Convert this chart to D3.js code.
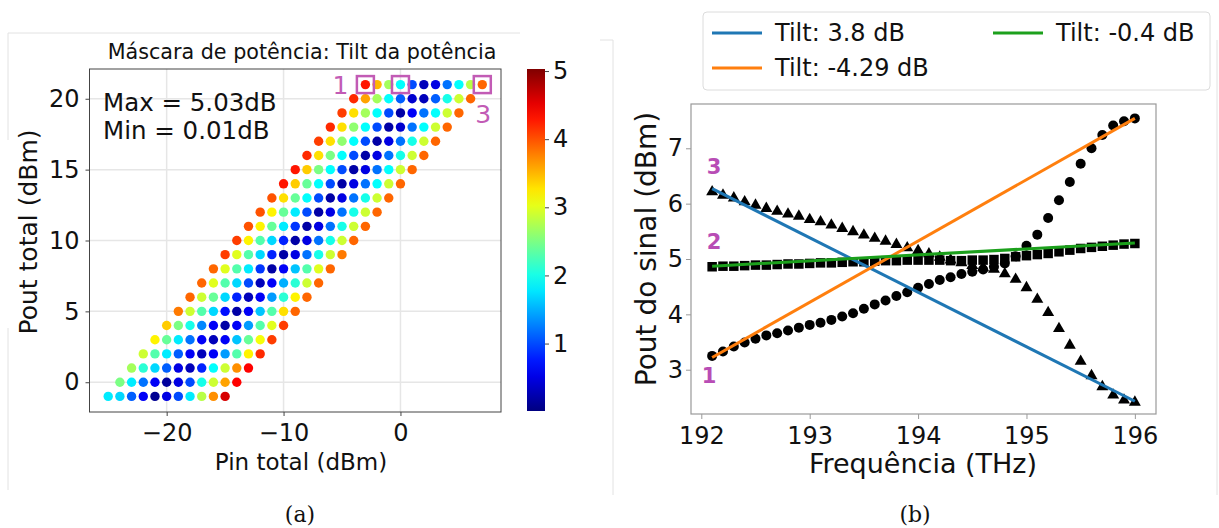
<!DOCTYPE html>
<html><head><meta charset="utf-8">
<script src="https://cdn.jsdelivr.net/npm/d3@7"></script>
<style>body{margin:0;background:#fff} svg{display:block} text{font-family:"DejaVu Sans",sans-serif;fill:#111}</style>
</head><body><svg id="c" width="1219" height="528"></svg>
<script>
// ---------- Panel (a): tilt mask ----------
const poutRows = [-1,0,1,2,3,4,5,6,7,8,9,10,11,12,13,14,15,16,17,18,19,20,21];
const gains = [24,23,22,21,20,19,18,17,16,15,14];   // Pin = Pout - gain
const tiltRows = [
  [1.8,1.7,1.1,0.6,0.1,0.5,1.0,1.8,2.8,3.7,4.6],
  [2.5,1.8,1.2,0.6,0.15,0.5,1.0,2.0,2.9,3.6,4.4],
  [2.7,2.1,1.7,1.1,0.5,0.3,0.8,1.9,2.9,3.7,4.4],
  [2.9,2.3,1.8,1.1,0.6,0.3,0.6,1.4,2.3,3.2,4.2],
  [3.2,2.4,1.8,1.2,0.6,0.3,0.6,1.6,2.4,3.1,4.1],
  [3.4,2.5,2.0,1.3,0.6,0.2,0.6,1.4,2.3,3.0,4.1],
  [3.8,2.9,2.3,1.7,0.7,0.2,0.6,1.6,2.3,3.3,3.9],
  [3.9,2.9,2.4,1.7,0.8,0.3,0.6,1.4,2.1,3.2,3.9],
  [3.9,3.0,2.3,1.7,1.0,0.3,0.6,1.5,2.1,2.9,3.9],
  [3.9,3.0,2.3,1.8,0.9,0.2,0.6,1.6,2.3,3.0,3.9],
  [4.1,3.0,2.3,1.7,0.8,0.2,0.5,1.2,2.0,2.9,3.8],
  [4.1,3.2,2.3,1.7,0.8,0.2,0.5,1.2,2.0,2.9,3.9],
  [4.0,3.2,2.4,1.8,0.9,0.2,0.5,1.2,2.0,2.9,3.9],
  [4.0,3.2,2.4,1.8,1.0,0.2,0.5,1.2,2.0,2.9,3.9],
  [4.0,3.3,2.4,1.9,1.0,0.2,0.5,1.2,2.0,2.9,3.9],
  [4.3,3.4,2.4,1.9,1.0,0.2,0.5,1.2,1.9,2.9,3.9],
  [4.3,3.4,2.5,1.9,1.0,0.2,0.5,1.2,1.9,2.9,3.9],
  [4.2,3.3,2.5,1.9,1.0,0.2,0.5,1.2,2.0,2.9,3.9],
  [4.1,3.3,2.6,1.9,1.0,0.2,0.5,1.2,2.0,2.9,3.9],
  [4.2,3.3,2.6,1.9,1.0,0.2,0.4,1.2,1.9,2.9,3.9],
  [4.1,3.3,2.7,1.9,1.0,0.2,0.6,1.2,1.9,2.9,3.9],
  [4.2,3.6,2.7,1.9,1.1,0.4,0.3,1.1,2.0,2.9,3.9],
  [4.3,3.5,2.7,1.9,1.0,0.3,0.5,1.2,1.9,2.8,3.9]
];
const tiltRange = [0.01, 5.03];
const xTicksA = [-20,-10,0];
const yTicksA = [0,5,10,15,20];
const cbarTicks = [1,2,3,4,5];
const markedPin = [-3, 0, 7];      // points 1,2,3 at Pout 21
const markedPout = [21, 21, 21];

// ---------- Panel (b): signal power ----------
const freqs = [192.1,192.2,192.3,192.4,192.5,192.6,192.7,192.8,192.9,193.0,
  193.1,193.2,193.3,193.4,193.5,193.6,193.7,193.8,193.9,194.0,
  194.1,194.2,194.3,194.4,194.5,194.6,194.7,194.8,194.9,195.0,
  195.1,195.2,195.3,195.4,195.5,195.6,195.7,195.8,195.9,196.0];
const pout1 = [3.25,3.33,3.42,3.49,3.56,3.62,3.66,3.71,3.76,3.81,
  3.85,3.90,3.96,4.02,4.10,4.18,4.25,4.33,4.40,4.48,
  4.55,4.62,4.67,4.73,4.77,4.81,4.86,4.92,5.05,5.24,
  5.44,5.74,6.06,6.39,6.72,7.00,7.24,7.41,7.49,7.54];
const pout2 = [4.86,4.87,4.87,4.88,4.89,4.89,4.90,4.91,4.91,4.92,
  4.93,4.93,4.94,4.95,4.95,4.96,4.97,4.97,4.98,4.98,
  4.98,4.98,4.97,4.97,4.98,4.98,4.99,5.01,5.04,5.06,
  5.08,5.10,5.13,5.16,5.19,5.21,5.23,5.25,5.27,5.28];
const pout3 = [6.23,6.17,6.12,6.05,5.99,5.93,5.88,5.83,5.79,5.73,
  5.69,5.63,5.57,5.51,5.45,5.39,5.34,5.28,5.22,5.17,
  5.11,5.05,5.00,4.95,4.90,4.86,4.83,4.75,4.65,4.50,
  4.29,4.05,3.76,3.46,3.17,2.91,2.71,2.56,2.47,2.43];
// linear fits: [value at first freq, value at last freq]
const fitLabels = ["Tilt: 3.8 dB","Tilt: -4.29 dB","Tilt: -0.4 dB"];
const fit3 = [6.27, 2.43];
const fit1 = [3.22, 7.54];
const fit2 = [4.87, 5.29];
const xTicksB = [192,193,194,195,196];
const yTicksB = [3,4,5,6,7];

const svg = d3.select("#c");
const MAG = "#c25bb5";

function jet(t){
  t = Math.max(0, Math.min(1, t));
  const c = v => Math.round(255*Math.max(0, Math.min(1, v)));
  return `rgb(${c(1.5-Math.abs(4*t-3))},${c(1.5-Math.abs(4*t-2))},${c(1.5-Math.abs(4*t-1))})`;
}

// faint page frames
const frames = svg.append("g").attr("stroke","#e2e2e2").attr("fill","none");
frames.append("path").attr("d","M8,140 V33 H520");
frames.append("path").attr("d","M8,328 V490");
frames.append("path").attr("d","M600,40 H613 V495");
frames.append("path").attr("d","M1217,40 V495");

// ================= Panel A =================
const xA = d3.scaleLinear().domain([-26.6, 8.6]).range([89.5, 501]);
const yA = d3.scaleLinear().domain([-2.1, 22.1]).range([412, 69]);
const color = d3.scaleSequential(t => jet(t)).domain(tiltRange);

const gA = svg.append("g");
gA.append("g").selectAll("line").data(xTicksA).join("line")
  .attr("x1", d=>xA(d)).attr("x2", d=>xA(d)).attr("y1", 69).attr("y2", 412)
  .attr("stroke","#e6e6e6").attr("stroke-width",1.5);
gA.append("g").selectAll("line").data(yTicksA).join("line")
  .attr("y1", d=>yA(d)).attr("y2", d=>yA(d)).attr("x1", 89.5).attr("x2", 501)
  .attr("stroke","#e6e6e6").attr("stroke-width",1.5);

const pts = [];
poutRows.forEach((p,i)=> gains.forEach((g,j)=> pts.push({pin:p-g, pout:p, v:tiltRows[i][j]})));
gA.append("g").selectAll("circle").data(pts).join("circle")
  .attr("cx", d=>xA(d.pin)).attr("cy", d=>yA(d.pout)).attr("r", 4.7)
  .attr("fill", d=>color(d.v));

gA.append("rect").attr("x",89.5).attr("y",69).attr("width",411.5).attr("height",343)
  .attr("fill","none").attr("stroke","#444").attr("stroke-width",1);

const axA = gA.append("g").attr("transform","translate(0,412)")
  .call(d3.axisBottom(xA).tickValues(xTicksA).tickSize(4).tickFormat(d=>d<0?"\u2212"+Math.abs(d):d));
const ayA = gA.append("g").attr("transform","translate(89.5,0)")
  .call(d3.axisLeft(yA).tickValues(yTicksA).tickSize(4).tickPadding(6));
[axA, ayA].forEach(a=>{ a.select(".domain").remove();
  a.selectAll("line").attr("stroke","#444");
  a.selectAll("text").attr("font-size",24).attr("font-family","DejaVu Sans").attr("fill","#111"); });
axA.selectAll("text").attr("dy","0.9em");

gA.append("g").selectAll("rect").data(markedPin).join("rect")
  .attr("x", (d,i)=>xA(d)-8.5).attr("y", (d,i)=>yA(markedPout[i])-8.5)
  .attr("width",17).attr("height",17).attr("fill","none")
  .attr("stroke",MAG).attr("stroke-width",2.5);
gA.append("text").attr("x", xA(markedPin[0])-25).attr("y", yA(21)+9).attr("text-anchor","middle")
  .attr("font-size",25).style("fill",MAG).text("1");
gA.append("text").attr("x", xA(markedPin[2])+1).attr("y", yA(21)+38).attr("text-anchor","middle")
  .attr("font-size",25).style("fill",MAG).text("3");

gA.append("text").attr("x",103).attr("y",111).attr("font-size",24.5).text("Max = 5.03dB");
gA.append("text").attr("x",103).attr("y",139).attr("font-size",24.5).text("Min = 0.01dB");

gA.append("text").attr("x",302).attr("y",59).attr("text-anchor","middle").attr("font-size",20.7)
  .text("Máscara de potência: Tilt da potência");
gA.append("text").attr("x",301).attr("y",470).attr("text-anchor","middle").attr("font-size",23)
  .text("Pin total (dBm)");
gA.append("text").attr("transform","translate(37,232) rotate(-90)").attr("text-anchor","middle")
  .attr("font-size",25).text("Pout total (dBm)");

// colorbar
const cb = svg.append("g");
const cbY = d3.scaleLinear().domain(tiltRange).range([411, 69]);
const grad = svg.append("defs").append("linearGradient").attr("id","jetg")
  .attr("x1",0).attr("y1",1).attr("x2",0).attr("y2",0);
d3.range(0,1.0001,0.05).forEach(t=> grad.append("stop").attr("offset",t).attr("stop-color",jet(t)));
cb.append("rect").attr("x",527).attr("y",69).attr("width",18).attr("height",342).attr("fill","url(#jetg)");
const cbAx = cb.append("g").attr("transform","translate(545,0)")
  .call(d3.axisRight(cbY).tickValues(cbarTicks).tickSize(4).tickPadding(4).tickFormat(d3.format("d")));
cbAx.select(".domain").remove();
cbAx.selectAll("line").attr("stroke","#444");
cbAx.selectAll("text").attr("font-size",24).attr("font-family","DejaVu Sans").attr("fill","#111");

// ================= Panel B =================
const xB = d3.scaleLinear().domain([191.905, 196.195]).range([691, 1156]);
const yB = d3.scaleLinear().domain([2.2, 7.8]).range([414, 104]);
const gB = svg.append("g");

gB.append("rect").attr("x",691).attr("y",104).attr("width",465).attr("height",310)
  .attr("fill","none").attr("stroke","#999").attr("stroke-width",1.2);

const axB = gB.append("g").attr("transform","translate(0,414)")
  .call(d3.axisBottom(xB).tickValues(xTicksB).tickSize(5).tickFormat(d3.format("d")));
const ayB = gB.append("g").attr("transform","translate(691,0)")
  .call(d3.axisLeft(yB).tickValues(yTicksB).tickSize(5).tickFormat(d3.format("d")));
[axB, ayB].forEach(a=>{ a.select(".domain").remove();
  a.selectAll("line").attr("stroke","#999");
  a.selectAll("text").attr("font-size",24).attr("font-family","DejaVu Sans").attr("fill","#111"); });
axB.selectAll("text").attr("dy","0.9em");

const circ = freqs.map((f,i)=>({f, v:pout1[i]}));
const sq = freqs.map((f,i)=>({f, v:pout2[i]}));
const tri = freqs.map((f,i)=>({f, v:pout3[i]}));
gB.append("g").selectAll("path").data(tri).join("path")
  .attr("transform", d=>`translate(${xB(d.f)},${yB(d.v)+1})`)
  .attr("d", d3.symbol(d3.symbolTriangle, 62)).attr("fill","#000");
gB.append("g").selectAll("path").data(sq).join("path")
  .attr("transform", d=>`translate(${xB(d.f)},${yB(d.v)})`)
  .attr("d", d3.symbol(d3.symbolSquare, 90)).attr("fill","#000");
gB.append("g").selectAll("circle").data(circ).join("circle")
  .attr("cx", d=>xB(d.f)).attr("cy", d=>yB(d.v)).attr("r", 5).attr("fill","#000");

const fits = [
  {vals: fit3, color:"#1f77b4"},
  {vals: fit1, color:"#ff7f0e"},
  {vals: fit2, color:"#1ca01c"}
];
const fEnds = [freqs[0], freqs[freqs.length-1]];
const line = d3.line().x(d=>xB(d[0])).y(d=>yB(d[1]));
gB.append("g").selectAll("path").data(fits).join("path")
  .attr("d", d=>line(fEnds.map((f,i)=>[f, d.vals[i]])))
  .attr("stroke", d=>d.color).attr("stroke-width",3).attr("fill","none");

const MAGB = "#b84db5";
gB.append("text").attr("x", xB(freqs[0])+2).attr("y", yB(fit3[0])-15).attr("text-anchor","middle")
  .attr("font-size",21).attr("font-weight","bold").style("fill",MAGB).text("3");
gB.append("text").attr("x", xB(freqs[0])+2).attr("y", yB(fit2[0])-17).attr("text-anchor","middle")
  .attr("font-size",21).attr("font-weight","bold").style("fill",MAGB).text("2");
gB.append("text").attr("x", xB(freqs[0])-3).attr("y", yB(fit1[0])+25).attr("text-anchor","middle")
  .attr("font-size",21).attr("font-weight","bold").style("fill",MAGB).text("1");

gB.append("text").attr("x",923).attr("y",473).attr("text-anchor","middle").attr("font-size",27)
  .text("Frequência (THz)");
gB.append("text").attr("transform","translate(656,249) rotate(-90)").attr("text-anchor","middle")
  .attr("font-size",28).text("Pout do sinal (dBm)");

// legend
const lg = svg.append("g");
lg.append("rect").attr("x",703).attr("y",12).attr("width",507).attr("height",78).attr("rx",4)
  .attr("fill","#fff").attr("stroke","#dcdcdc");
const legItems = [
  {label: fitLabels[0], color:"#1f77b4", x:712, y:33},
  {label: fitLabels[2], color:"#1ca01c", x:993, y:33},
  {label: fitLabels[1], color:"#ff7f0e", x:712, y:68}
];
const li = lg.selectAll("g").data(legItems).join("g").attr("transform", d=>`translate(${d.x},${d.y})`);
li.append("line").attr("x1",0).attr("x2",50).attr("stroke", d=>d.color).attr("stroke-width",3);
li.append("text").attr("x",63).attr("y",8).attr("font-size",24).text(d=>d.label);

svg.append("text").attr("x",300).attr("y",522).attr("text-anchor","middle")
  .style("font-family","'DejaVu Serif',serif").attr("font-size",22).text("(a)");
svg.append("text").attr("x",915).attr("y",522).attr("text-anchor","middle")
  .style("font-family","'DejaVu Serif',serif").attr("font-size",22).text("(b)");
</script></body></html>
